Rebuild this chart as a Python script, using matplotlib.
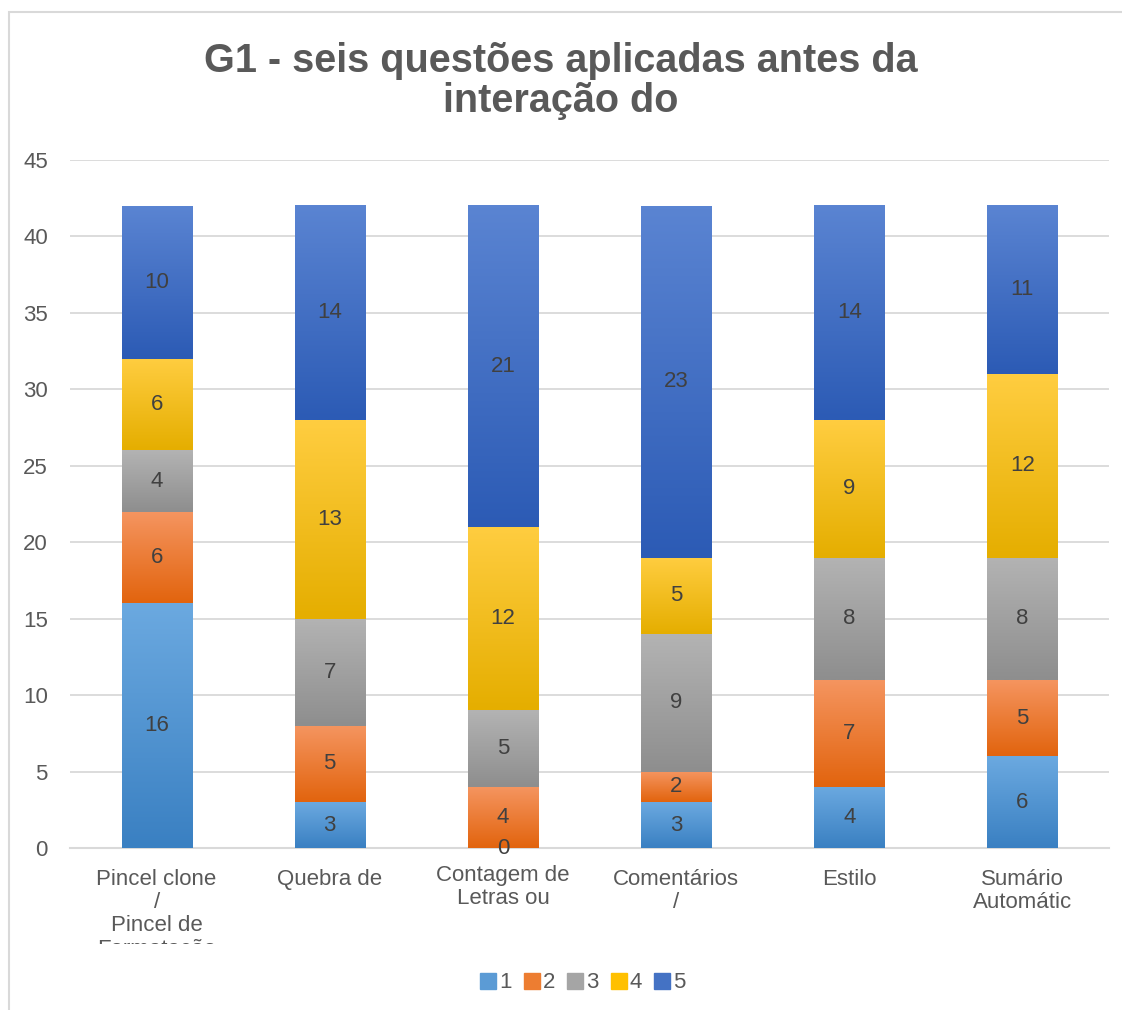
import matplotlib
matplotlib.use("Agg")
import matplotlib.pyplot as plt
import numpy as np
from matplotlib.transforms import Bbox, TransformedBbox
from matplotlib.colors import LinearSegmentedColormap
from matplotlib.patches import Rectangle
from matplotlib.lines import Line2D

plt.rcParams['font.family'] = ['Liberation Sans', 'DejaVu Sans']

categorias = ["Pincel clone\n/\nPincel de\nFormatação", "Quebra de", "Contagem de\nLetras ou",
              "Comentários\n/", "Estilo", "Sumário\nAutomátic"]
series = ["1", "2", "3", "4", "5"]
v1 = [16, 3, 0, 3, 4, 6]
v2 = [6, 5, 4, 2, 7, 5]
v3 = [4, 7, 5, 9, 8, 8]
v4 = [6, 13, 12, 5, 9, 12]
v5 = [10, 14, 21, 23, 14, 11]
valores = [v1, v2, v3, v4, v5]

# (topo, base, cor legenda)
cores = [("#6BA9E0", "#3A80C2", "#5B9BD5"),
         ("#F59560", "#E2640E", "#ED7D31"),
         ("#B3B3B3", "#8E8E8E", "#A5A5A5"),
         ("#FFCD40", "#E5AE00", "#FFC000"),
         ("#5A84D2", "#2C5BB5", "#4472C4")]

fig = plt.figure(figsize=(11.22, 10.10), dpi=100)
ax = fig.add_axes([70/1122, 1-848/1010, 1039/1122, 688/1010])

# borda do gráfico
fig.patches.append(Rectangle((9/1122, -0.1), 1.2, 1-12/1010+0.1, transform=fig.transFigure,
                             fill=False, edgecolor="#D9D9D9", linewidth=1.5))

x = np.arange(len(categorias))
base = np.zeros(len(categorias))
grad = np.linspace(1, 0, 100).reshape(-1, 1)
for vals, (c_top, c_bot, c_leg) in zip(valores, cores):
    cmap = LinearSegmentedColormap.from_list("g", [c_bot, c_top])
    bars = ax.bar(x, vals, 0.405, bottom=base, color=c_leg, zorder=2)
    for b, v, b0 in zip(bars, vals, base):
        x0, y0 = b.get_x(), b.get_y()
        w, h = b.get_width(), b.get_height()
        if h > 0:
            ax.imshow(grad, extent=[x0, x0 + w, y0, y0 + h], aspect='auto', cmap=cmap,
                      vmin=0, vmax=1, zorder=3, interpolation='bilinear')
        ax.text(x0 + w / 2, b0 + v / 2, str(v), ha='center', va='center',
                fontsize=16, color="#404040", zorder=5)
    base = base + np.array(vals)

ax.set_xlim(-0.5, len(categorias) - 0.5)
ax.set_ylim(0, 45)
ax.set_yticks(range(0, 46, 5))
ax.yaxis.grid(True, color="#D9D9D9", linewidth=1.3, zorder=0)
ax.set_axisbelow(True)
for s in ["top", "right", "left"]:
    ax.spines[s].set_visible(False)
ax.spines["bottom"].set_color("#D9D9D9")
ax.spines["bottom"].set_linewidth(1.5)
ax.tick_params(axis='y', length=0, labelsize=16, labelcolor="#595959", pad=16)
ax.tick_params(axis='x', length=0)
ax.set_xticks(x)
ax.set_xticklabels([])

clip = TransformedBbox(Bbox([[0, 1 - 944/1010], [1, 1]]), fig.transFigure)
for xi, cat in zip(x, categorias):
    y_lbl = -0.025 if cat.startswith("Contagem") else -0.031
    t = ax.text(xi, y_lbl, cat, transform=ax.get_xaxis_transform(), ha='center', va='top',
                fontsize=16, color="#595959", linespacing=1.13, clip_on=True)
    t.set_clip_box(clip)

fig.text(0.5, 1 - 81/1010, "G1 - seis questões aplicadas antes da\ninteração do", ha='center',
         va='center', fontsize=28.5, fontweight='bold', color="#595959", linespacing=1.08)

handles = [Line2D([], [], marker='s', linestyle='', markersize=11, color=c[2]) for c in cores]
fig.legend(handles, series, loc='center', bbox_to_anchor=(0.517, 1 - 983/1010), ncol=5,
           frameon=False, fontsize=16, labelcolor="#595959", handletextpad=-0.1,
           columnspacing=0.3, handlelength=1.2)

fig.savefig("out.png", dpi=100)
